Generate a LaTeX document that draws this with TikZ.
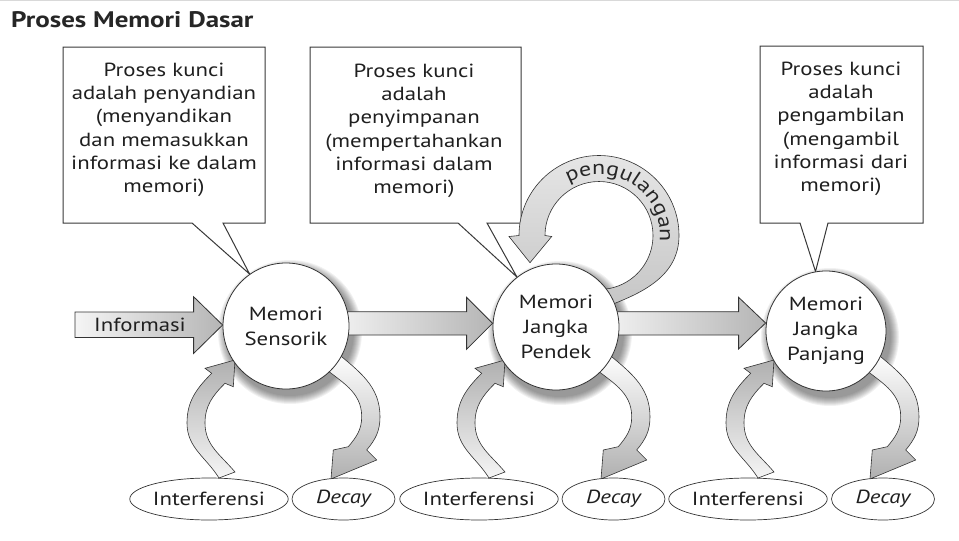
\documentclass[tikz,border=0pt]{standalone}
\usepackage{fontspec}
\setmainfont{PT Sans}[FakeStretch=1.2]
\usetikzlibrary{shapes.geometric,decorations.text,calc}
\pgfdeclarelayer{back}
\pgfsetlayers{back,main}

\newcommand\diagfont{\fontsize{19}{23.3}\selectfont}
\newcommand\headfont{\fontsize{22.5}{27}\selectfont\bfseries}
\newcommand\loopfont{\fontsize{20}{20}\selectfont}

\tikzset{
  callout/.style={draw=black!78, line width=1pt, fill=white, line join=miter},
  calltext/.style={align=center, font=\diagfont, inner sep=0pt, text=black!88},
  memnode/.style={circle, draw=black!80, line width=0.8pt, fill=white,
    minimum size=#1, inner sep=0pt, align=center,
    font=\fontsize{19}{25}\selectfont, text=black!88},
  cause/.style={ellipse, draw=black!80, line width=0.7pt, fill=white,
    minimum height=42pt, inner sep=0pt, font=\diagfont, text=black!88},
  fatarrow/.style={draw=black!80, line width=0.8pt, left color=gray!8,
    right color=gray!58, line join=miter},
  bandup/.style={draw=black!80, line width=0.6pt, top color=gray!62,
    bottom color=gray!8, line join=miter},
  banddown/.style={draw=black!80, line width=0.6pt, top color=white,
    bottom color=gray!62, line join=miter},
  loopband/.style={draw=black!80, line width=0.6pt, top color=gray!20,
    bottom color=gray!45, line join=miter},
  % interference arrow (up into the store) and decay arrow (down out of it)
  lossarrows/.pic={
    \path[bandup] (-51,-146) -- (-67,-152) to[out=122,in=-90] (-99,-97)
      to[out=90,in=225] (-74.3,-47.3) -- (-81,-42.3) -- (-51,-34)
      -- (-52.7,-60.7) -- (-61,-57.3) to[out=225,in=90] (-81,-97)
      to[out=-90,in=130] (-51,-146) -- cycle;
    \path[banddown] (36,-40) -- (50,-26) to[out=-40,in=90] (94,-90.7)
      to[out=-90,in=50] (80.7,-124) -- (90.7,-134) -- (45,-153)
      -- (47.3,-124) -- (62.3,-120.7) to[out=50,in=-90] (75.7,-90.7)
      to[out=90,in=-40] (36,-40) -- cycle;
  }
}

\begin{document}
\begin{tikzpicture}[x=1pt, y=1pt]
\useasboundingbox (0,0) rectangle (959,-541);

% thin rule along the top edge
\draw[gray!30, line width=1.2pt] (0,-0.6) -- (959,-0.6);

\node[anchor=base west, font=\headfont, text=black!85, inner sep=0pt] (title)
  at (11,-27.5) {Proses Memori Dasar};

% the three memory stores
\node[memnode=126pt] (sens) at (286,-326) {Memori\\Sensorik};
\node[memnode=126pt] (pend) at (556,-327) {Memori\\Jangka\\Pendek};
\node[memnode=120pt] (panj) at (826,-331) {Memori\\Jangka\\Panjang};

% causes of forgetting
\node[cause, minimum width=142pt] (intf1) at (209,-499) {Interferensi};
\node[cause, minimum width=103pt] (dec1) at (343.5,-499) {\itshape Decay};
\node[cause, minimum width=142pt] (intf2) at (479,-499) {Interferensi};
\node[cause, minimum width=103pt] (dec2) at (613.5,-499) {\itshape Decay};
\node[cause, minimum width=142pt] (intf3) at (748,-499) {Interferensi};
\node[cause, minimum width=103pt] (dec3) at (883,-499) {\itshape Decay};

% callout texts
\node[calltext] (key1) at (164,-130) {Proses kunci\\adalah penyandian\\(menyandikan\\dan memasukkan\\informasi ke dalam\\memori)};
\node[calltext] (key2) at (414,-131) {Proses kunci\\adalah\\penyimpanan\\(mempertahankan\\informasi dalam\\memori)};
\node[calltext] (key3) at (841,-129) {Proses kunci\\adalah\\pengambilan\\(mengambil\\informasi dari\\memori)};

\coordinate (src) at (75,-325);
\coordinate (loopc) at (599,-235.5);

\begin{pgfonlayer}{back}
  % callout frames with pointers to the stores
  \draw[callout] (63,-47) -- (265,-47) -- (265,-223) -- (223,-223)
    -- (sens.125) -- (192,-223) -- (63,-223) -- cycle;
  \draw[callout] (310,-47) -- (521,-47) -- (521,-223) -- (487,-223)
    -- (pend.128) -- (458,-223) -- (310,-223) -- cycle;
  \draw[callout] (760,-46) -- (923,-46) -- (923,-223) -- (828,-223)
    -- (panj.100) -- (800,-223) -- (760,-223) -- cycle;

  % soft shadows of the stores
  \foreach \c/\r in {sens/63, pend/63, panj/60}{
    \foreach \k in {0,...,8}{
      \fill[black, opacity=0.055] ($(\c.center)+(4,-6)$) circle ({\r+9-\k});
    }
  }

  % main flow
  \path[fatarrow] let \p1=(src), \p2=(sens.west) in
    (\x1,-312pt) -- (\x2-29pt,-312pt) -- (\x2-29pt,-296.7pt) -- (\x2,-325pt)
    -- (\x2-29pt,-353.5pt) -- (\x2-29pt,-337.5pt) -- (\x1,-337.5pt) -- cycle;
  \path[fatarrow] let \p1=(sens.east), \p2=(pend.west) in
    (\x1-20pt,-311.7pt) -- (\x2-26pt,-311.7pt) -- (\x2-26pt,-297.3pt)
    -- (\x2,-323.3pt) -- (\x2-26pt,-349.3pt) -- (\x2-26pt,-335pt)
    -- (\x1-20pt,-335pt) -- cycle;
  \path[fatarrow] let \p1=(pend.east), \p2=(panj.west) in
    (\x1-20pt,-311.7pt) -- (\x2-27pt,-311.7pt) -- (\x2-27pt,-297.3pt)
    -- (\x2,-323pt) -- (\x2-27pt,-349pt) -- (\x2-27pt,-335pt)
    -- (\x1-20pt,-335pt) -- cycle;

  % rehearsal loop
  \path[loopband] (605,-307) to[out=20,in=-90] ($(loopc)+(80,0)$)
    arc[start angle=0, end angle=180, radius=80]
    -- ($(loopc)+(-90,-1)$) -- ($(loopc)+(-69,-27.2)$) -- ($(loopc)+(-47.3,-1)$)
    -- ($(loopc)+(-54,0)$) arc[start angle=180, end angle=-95, radius=54]
    -- cycle;
  \path[decorate, decoration={text along path,
      text={|\loopfont\color{black!85}|pengulangan}, text align={fit to path}}]
    ($(loopc)+(120:61)$) arc[start angle=120, end angle=0, radius=61];

  % interference and decay around each store
  \pic at (286,-326) {lossarrows};
  \pic at (556,-326) {lossarrows};
  \pic at (825,-326) {lossarrows};
\end{pgfonlayer}

\node[font=\diagfont, text=black!88] (info) at (140,-325) {Informasi};
\end{tikzpicture}
\end{document}
